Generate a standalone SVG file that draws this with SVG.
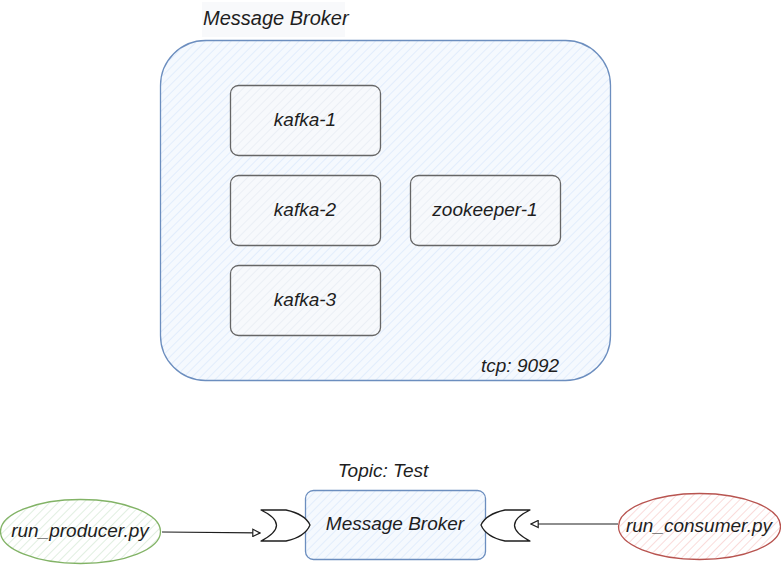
<svg xmlns="http://www.w3.org/2000/svg" width="781" height="569" viewBox="0 0 781 569">
<style>
  text { font-family: "Liberation Sans", "DejaVu Sans", sans-serif; font-size: 19px; font-style: italic; fill: #1e1e1e; }
  .lbl { text-anchor: middle; dominant-baseline: central; }
  .inner { fill: url(#hGray); stroke: #666666; stroke-width: 1.3; }
  .blue { fill: url(#hBlue); stroke: #6c8ebf; stroke-width: 1.3; }
  .gate { fill: #ffffff; stroke: #1e1e1e; stroke-width: 1.3; stroke-linejoin: round; }
  .conn { fill: none; stroke: #1e1e1e; stroke-width: 1.2; marker-end: url(#arrow); }
</style>
<defs>
  <pattern id="hBlue" width="6" height="6" patternUnits="userSpaceOnUse" patternTransform="rotate(45)">
    <rect width="6" height="6" fill="#f5f9fe"/>
    <line x1="0" y1="0" x2="0" y2="6" stroke="#dae8fc" stroke-width="1.4"/>
  </pattern>
  <pattern id="hGray" width="6" height="6" patternUnits="userSpaceOnUse" patternTransform="rotate(45)">
    <rect width="6" height="6" fill="#f7f9fc"/>
    <line x1="0" y1="0" x2="0" y2="6" stroke="#e4e9f1" stroke-width="1.2"/>
  </pattern>
  <pattern id="hGreen" width="6" height="6" patternUnits="userSpaceOnUse" patternTransform="rotate(45)">
    <rect width="6" height="6" fill="#ffffff"/>
    <line x1="0" y1="0" x2="0" y2="6" stroke="#d5e8d4" stroke-width="1.4"/>
  </pattern>
  <pattern id="hRed" width="6" height="6" patternUnits="userSpaceOnUse" patternTransform="rotate(45)">
    <rect width="6" height="6" fill="#ffffff"/>
    <line x1="0" y1="0" x2="0" y2="6" stroke="#f8cecc" stroke-width="1.4"/>
  </pattern>
  <marker id="arrow" viewBox="0 0 10 10" refX="9" refY="5" markerWidth="9" markerHeight="9" markerUnits="userSpaceOnUse" orient="auto">
    <path d="M1,1 L9,5 L1,9 Z" fill="#ffffff" stroke="#1e1e1e" stroke-width="1.3"/>
  </marker>
</defs>

<g id="broker-container">
  <rect x="202" y="2" width="143" height="35" fill="#f8f9fb"/>
  <text x="203" y="25" style="font-size:20px">Message Broker</text>
  <rect x="160.5" y="40.5" width="450" height="340" rx="45" ry="45" class="blue"/>
  <text x="481" y="372" style="font-size:19px">tcp: 9092</text>
</g>

<g id="kafka-1">
  <rect x="230.5" y="85.5" width="150" height="70" rx="8" class="inner"/>
  <text x="305" y="119" class="lbl">kafka-1</text>
</g>
<g id="kafka-2">
  <rect x="230.5" y="175.5" width="150" height="70" rx="8" class="inner"/>
  <text x="305" y="209" class="lbl">kafka-2</text>
</g>
<g id="kafka-3">
  <rect x="230.5" y="265.5" width="150" height="70" rx="8" class="inner"/>
  <text x="305" y="299" class="lbl">kafka-3</text>
</g>
<g id="zookeeper-1">
  <rect x="410.5" y="175.5" width="150" height="70" rx="8" class="inner"/>
  <text x="485" y="209" class="lbl">zookeeper-1</text>
</g>

<g id="topic-broker">
  <text x="383" y="470" class="lbl">Topic: Test</text>
  <rect x="305.5" y="490.5" width="180" height="69" rx="8" class="blue"/>
  <text x="395" y="523" class="lbl">Message Broker</text>
</g>

<g id="gate-left">
  <path class="gate" d="M261,510 L286,510 Q305,514 310,525 Q305,537 286,541 L261,541 Q292,525 261,510 Z"/>
</g>
<g id="gate-right">
  <path class="gate" d="M530,510 L505,510 Q486,514 481,525 Q486,537 505,541 L530,541 Q499,525 530,510 Z"/>
</g>

<g id="run-producer">
  <ellipse cx="80.5" cy="531.5" rx="80" ry="32" fill="url(#hGreen)" stroke="#82b366" stroke-width="1.3"/>
  <text x="80" y="530" class="lbl">run_producer.py</text>
</g>
<g id="run-consumer">
  <ellipse cx="699.5" cy="526.5" rx="81" ry="33" fill="url(#hRed)" stroke="#b85450" stroke-width="1.3"/>
  <text x="699" y="525" class="lbl">run_consumer.py</text>
</g>

<g id="connectors">
  <path class="conn" d="M162,532 L260,533"/>
  <path class="conn" d="M618,524 L531,524"/>
</g>
</svg>
